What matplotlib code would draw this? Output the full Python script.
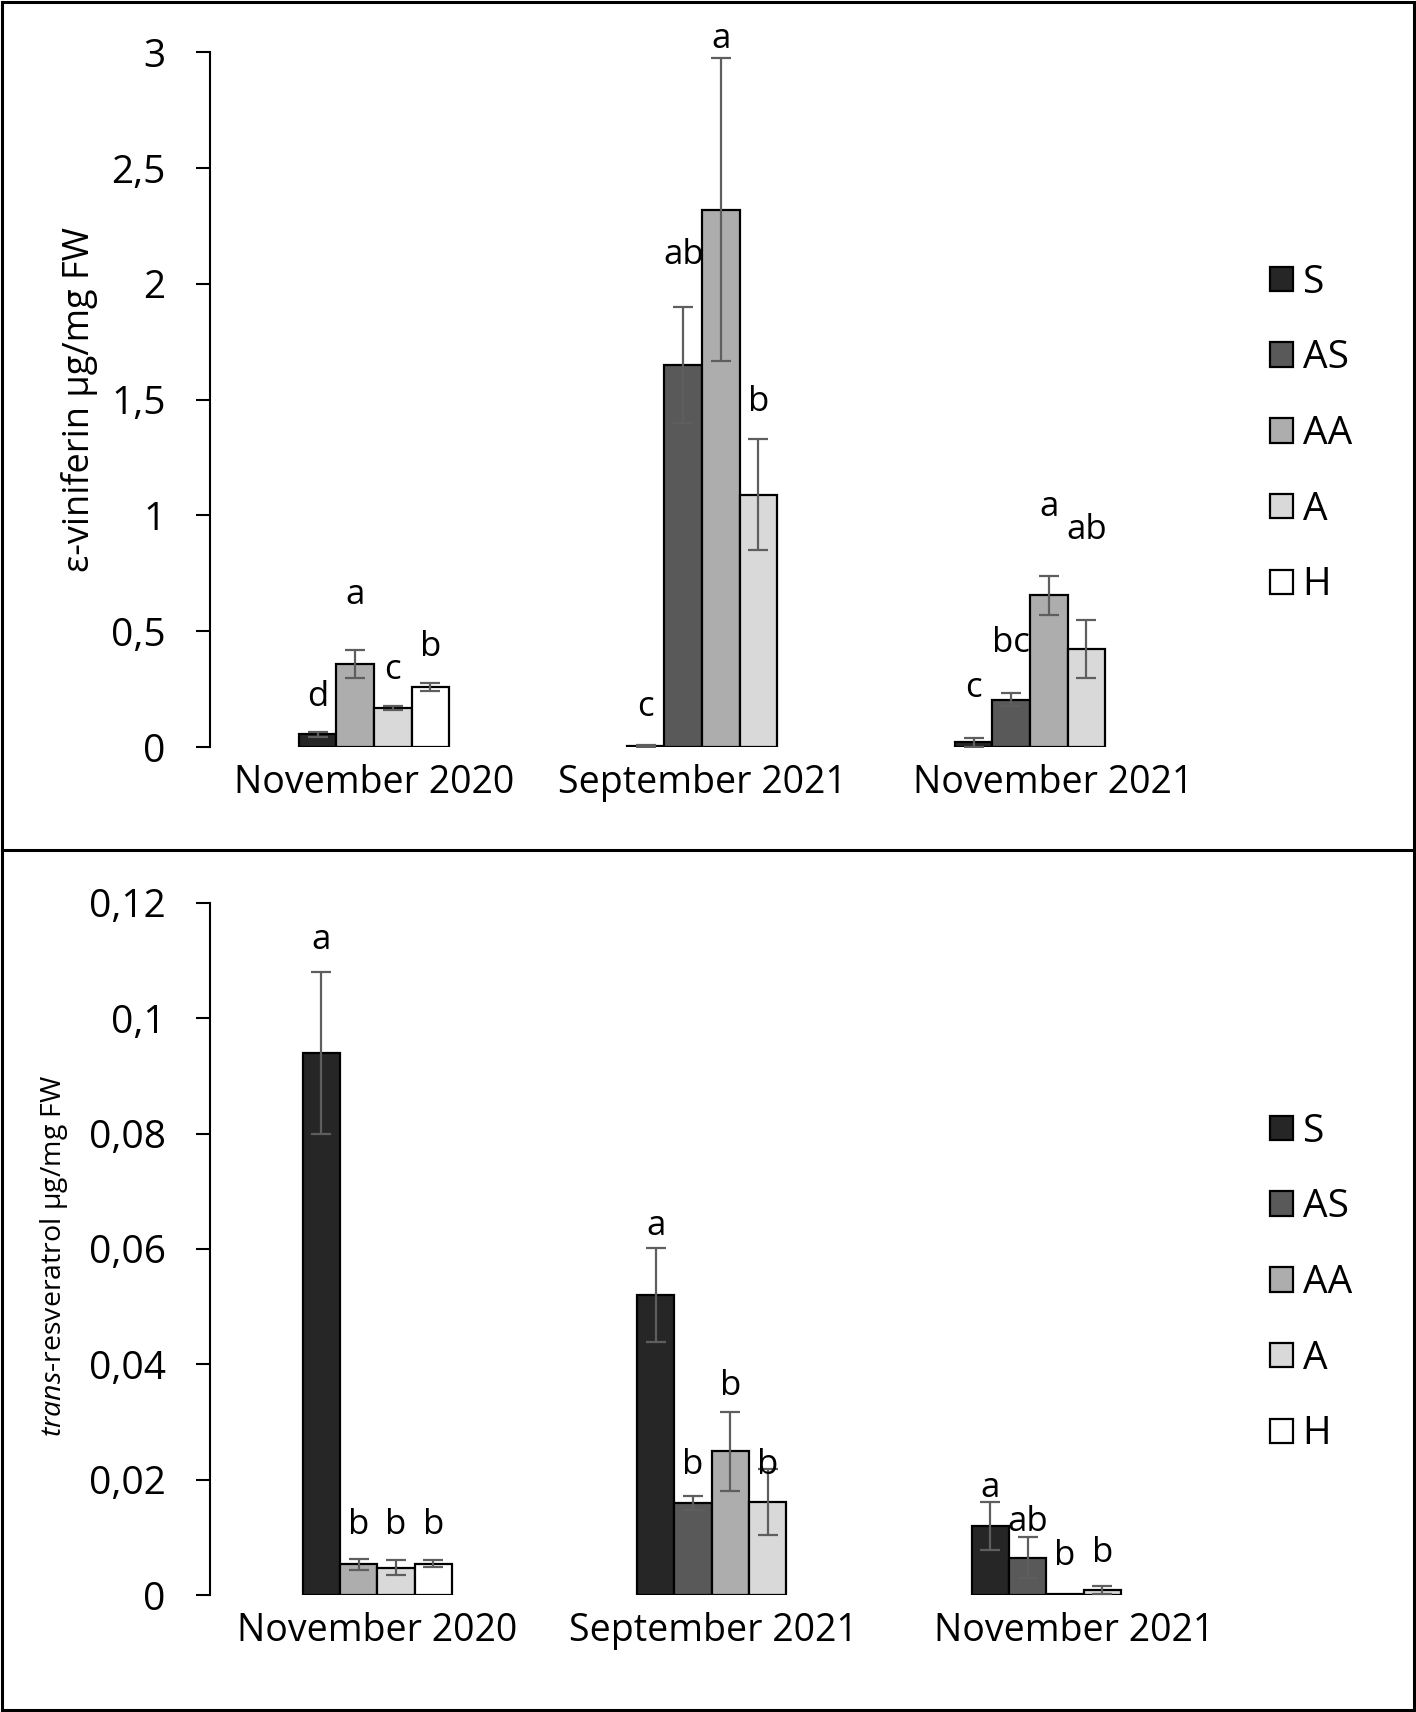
import matplotlib
matplotlib.use("Agg")
import matplotlib.pyplot as plt
from matplotlib.patches import Rectangle, Patch
from matplotlib.lines import Line2D
from matplotlib.ticker import FuncFormatter
import numpy as np

plt.rcParams['font.family'] = ['Open Sans', 'DejaVu Sans']
plt.rcParams['mathtext.fontset'] = 'custom'
plt.rcParams['mathtext.it'] = 'Open Sans:italic'
plt.rcParams['mathtext.rm'] = 'Open Sans'

# ---------------- data ----------------
categories = ["November 2020", "September 2021", "November 2021"]
series = ["S", "AS", "AA", "A", "H"]

# epsilon-viniferin (ug/mg FW)
vin_mean = {
    "S":  [0.055, 0.005, 0.020],
    "AS": [None, 1.65, 0.205],
    "AA": [0.36, 2.32, 0.655],
    "A":  [0.17, 1.09, 0.423],
    "H":  [0.26, None, None],
}
vin_err = {
    "S":  [0.010, 0.004, 0.020],
    "AS": [None, 0.25, 0.030],
    "AA": [0.060, 0.655, 0.085],
    "A":  [0.009, 0.24, 0.126],
    "H":  [0.016, None, None],
}
vin_letters = {
    "S":  ["d", "c", "c"],
    "AS": [None, "ab", "bc"],
    "AA": ["a", "a", "a"],
    "A":  ["c", "b", "ab"],
    "H":  ["b", None, None],
}
vin_letter_y = {
    "S":  [0.217, 0.171, 0.255],
    "AS": [None, 2.125, 0.45],
    "AA": [0.657, 3.056, 1.038],
    "A":  [0.333, 1.49, 0.937],
    "H":  [0.432, None, None],
}

# trans-resveratrol (ug/mg FW)
res_mean = {
    "S":  [0.094, 0.052, 0.012],
    "AS": [None, 0.016, 0.0065],
    "AA": [0.0053, 0.0249, 0.0002],
    "A":  [0.0047, 0.0161, 0.0008],
    "H":  [0.0054, None, None],
}
res_err = {
    "S":  [0.014, 0.0082, 0.0042],
    "AS": [None, 0.0012, 0.0036],
    "AA": [0.0009, 0.0069, 0.0],
    "A":  [0.0013, 0.0057, 0.0007],
    "H":  [0.0006, None, None],
}
res_letters = {
    "S":  ["a", "a", "a"],
    "AS": [None, "b", "ab"],
    "AA": ["b", "b", "b"],
    "A":  ["b", "b", "b"],
    "H":  ["b", None, None],
}
res_letter_y = {
    "S":  [0.1136, 0.064, 0.0185],
    "AS": [None, 0.0225, 0.0127],
    "AA": [0.0121, 0.0362, 0.0067],
    "A":  [0.0121, 0.0225, 0.0072],
    "H":  [0.0121, None, None],
}

vin_ticks = [0, 0.5, 1, 1.5, 2, 2.5, 3]
res_ticks = [0, 0.02, 0.04, 0.06, 0.08, 0.1, 0.12]

colors = {"S": "#262626", "AS": "#595959", "AA": "#adadad", "A": "#d9d9d9", "H": "#ffffff"}

# ---------------- layout ----------------
W, H = 1416, 1712
fig = plt.figure(figsize=(W / 100, H / 100), dpi=100)


def fx(px):
    return px / W


def fy(py):
    return 1 - py / H


ax1 = fig.add_axes([fx(210), fy(747), fx(1194) - fx(210), fy(52.4) - fy(747)])
ax2 = fig.add_axes([fx(210), fy(1595), fx(1213.5) - fx(210), fy(903) - fy(1595)])

comma = FuncFormatter(lambda v, p: ("%g" % round(v, 4)).replace(".", ","))


def draw(ax, means, errs, letters, letter_y, ticks, bar_px, label_shift):
    ax_w_px = ax.get_position().width * W
    bw = bar_px / (ax_w_px / len(categories))
    for ci in range(len(categories)):
        present = [s for s in series if means[s][ci] is not None]
        n = len(present)
        for i, s in enumerate(present):
            x = ci + (i - (n - 1) / 2) * bw
            ax.bar(x, means[s][ci], bw, color=colors[s], edgecolor="black",
                   linewidth=1.6, zorder=2)
            if errs[s][ci]:
                ax.errorbar(x, means[s][ci], yerr=errs[s][ci], fmt="none",
                            ecolor="#5e5e5e", elinewidth=1.6, capsize=7,
                            capthick=1.6, zorder=3)
            if letters[s][ci]:
                ax.text(x, letter_y[s][ci], letters[s][ci], ha="center",
                        va="center", fontsize=25, zorder=4)
    ax.set_xlim(-0.5, len(categories) - 0.5)
    ax.set_ylim(ticks[0], ticks[-1])
    ax.set_yticks(ticks)
    ax.yaxis.set_major_formatter(comma)
    ax.set_xticks(np.arange(len(categories)) + np.array(label_shift))
    ax.set_xticklabels(categories, fontsize=27)
    ax.tick_params(axis="x", length=0, pad=12)
    ax.tick_params(axis="y", direction="out", length=10, width=1.5,
                   labelsize=28, pad=22)
    for sp in ["top", "right", "bottom"]:
        ax.spines[sp].set_visible(False)
    ax.spines["left"].set_linewidth(1.5)
    ax.patch.set_alpha(0)


draw(ax1, vin_mean, vin_err, vin_letters, vin_letter_y, vin_ticks, 37.6, [0, 0, 0.07])
draw(ax2, res_mean, res_err, res_letters, res_letter_y, res_ticks, 37.3, [0, 0.006, 0.084])

fig.text(fx(80), fy(400), "ε-viniferin µg/mg FW", rotation=90, ha="center",
         va="center", fontsize=26)
fig.text(fx(54), fy(1256), r"$\it{trans}$-resveratrol µg/mg FW", rotation=90,
         ha="center", va="center", fontsize=20.5)

handles = [Patch(facecolor=colors[s], edgecolor="black", linewidth=1.6) for s in series]
for cy in (434, 1283):
    fig.legend(handles, series, loc="center left", bbox_to_anchor=(fx(1270), fy(cy)),
               frameon=False, fontsize=28, handlelength=0.59, handleheight=0.59,
               handletextpad=0.25, labelspacing=0.97, borderpad=0, borderaxespad=0)

# frame and divider
fig.add_artist(Rectangle((fx(2), fy(1710)), fx(1412), 1708 / H, transform=fig.transFigure,
                         fill=False, edgecolor="black", linewidth=2.2))
fig.add_artist(Line2D([fx(2), fx(1414)], [fy(850), fy(850)], transform=fig.transFigure,
                      color="black", linewidth=2.2))

fig.savefig("out.png", dpi=100)
